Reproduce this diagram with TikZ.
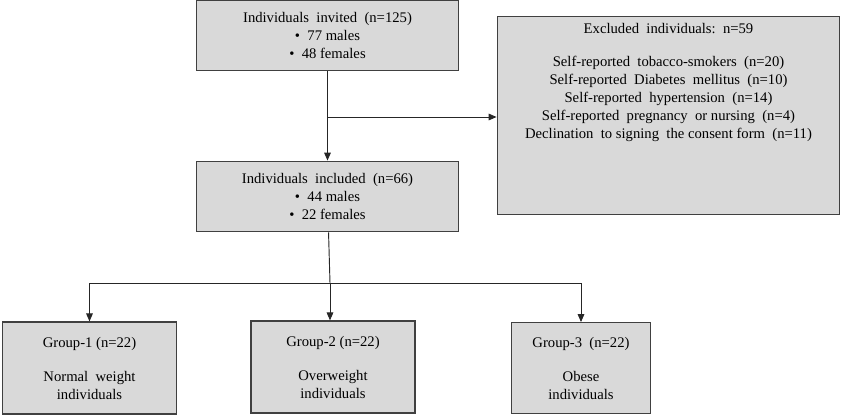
\documentclass[tikz,border=0pt]{standalone}
\usepackage{fontspec}
\setmainfont{Liberation Serif}
\usetikzlibrary{arrows.meta}
\begin{document}
\begin{tikzpicture}[x=0.75pt,y=-0.75pt]
    % Stili
    \tikzset{box/.style={rectangle, draw=black!75, line width=0.9pt, fill=black!15, align=center, font=\fontsize{11}{13.5}\selectfont, inner sep=2pt},
             arrow/.style={-{Triangle[length=6pt,width=5pt]}, line width=0.7pt, black!85},
             line/.style={line width=0.7pt, black!85}}
    \useasboundingbox (0,0) rectangle (843,415);

    % Scatole
    \node[box, minimum width=196pt, minimum height=53pt] (invited) at (327.5,35.5) {Individuals\ \ invited\ \ (n=125)\\\textbullet\ \ 77 males\\\textbullet\ \ 48 females};
    \node[box, minimum width=257pt, minimum height=148pt] (excluded) at (668.5,115.5) {Excluded\ \ individuals:\ \ n=59\\[11pt]Self-reported\ \ tobacco-smokers\ \ (n=20)\\Self-reported\ \ Diabetes\ \ mellitus\ \ (n=10)\\Self-reported\ \ hypertension\ \ (n=14)\\Self-reported\ \ pregnancy\ \ or nursing\ \ (n=4)\\Declination\ \ to signing\ \ the consent form\ \ (n=11)\\[38pt]};
    \node[box, minimum width=196pt, minimum height=53pt] (included) at (327.5,196.5) {Individuals\ \ included\ \ (n=66)\\\textbullet\ \ 44 males\\\textbullet\ \ 22 females};
    \node[box, minimum width=131pt, minimum height=69pt] (group1) at (89.5,368) {Group-1 (n=22)\\[12pt]Normal\ \ weight\\individuals};
    \node[box, minimum width=123pt, minimum height=69pt] (group2) at (333,367) {Group-2 (n=22)\\[12pt]Overweight\\individuals};
    \node[box, minimum width=104pt, minimum height=68pt] (group3) at (581,368) {Group-3\ \ (n=22)\\[12pt]Obese\\individuals};

    % Punti di snodo
    \coordinate (split) at (327.5,117);
    \coordinate (fork) at (330,283);

    % Frecce
    \draw[arrow] (invited) -- (included);
    \draw[arrow] (split) -- (split -| excluded.west);
    \draw[line] (included) -- (fork);
    \draw[arrow] (fork) -- (group2.north -| fork);
    \draw[arrow] (fork) -| (group1.north);
    \draw[arrow] (fork) -| (group3.north);
\end{tikzpicture}
\end{document}
